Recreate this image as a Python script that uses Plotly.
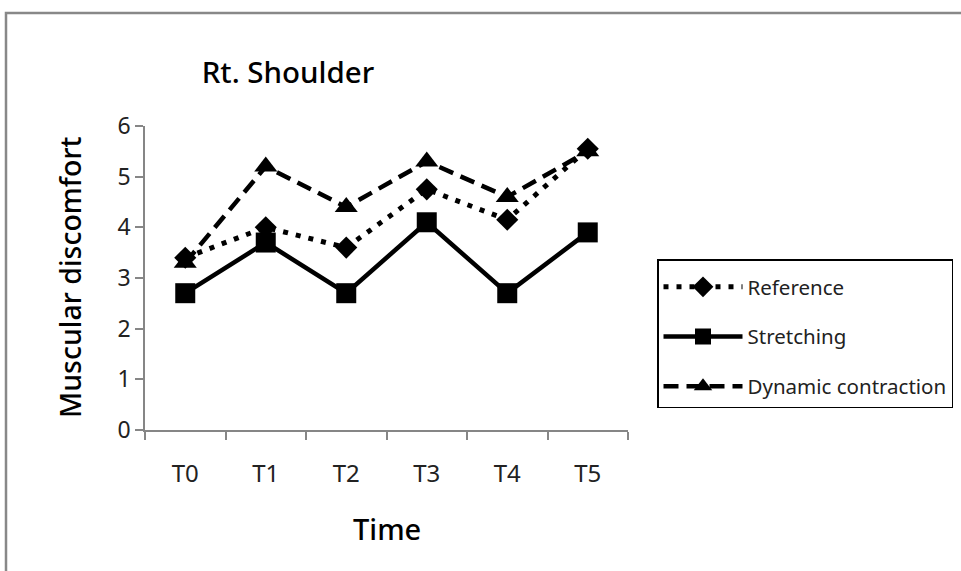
import plotly.graph_objects as go

# Muscular discomfort scores for the right shoulder over six time points
times = ["T0", "T1", "T2", "T3", "T4", "T5"]
reference = [3.4, 4.0, 3.6, 4.75, 4.15, 5.55]
stretching = [2.7, 3.7, 2.7, 4.1, 2.7, 3.9]
dynamic = [3.3, 5.2, 4.4, 5.3, 4.6, 5.5]

W, H = 961, 571
L, R, T, B = 145, 628, 126, 430          # plot-area edges in pixels
FONT = "Noto Sans"


def px_x(px):
    return (px - L) / (R - L)


def px_y(py):
    return (B - py) / (B - T)


fig = go.Figure()

fig.add_trace(go.Scatter(
    x=times, y=reference, name="Reference", mode="lines+markers",
    line=dict(color="black", width=5, dash="5px,8px"),
    marker=dict(symbol="diamond", size=17, color="black"),
    legendgroup="a",
))
fig.add_trace(go.Scatter(
    x=times, y=stretching, name="Stretching", mode="lines+markers",
    line=dict(color="black", width=4.5),
    marker=dict(symbol="square", size=20, color="black"),
    legendgroup="b",
))
fig.add_trace(go.Scatter(
    x=times, y=dynamic, name="Dynamic contraction", mode="lines+markers",
    line=dict(color="black", width=4.5, dash="15px,8px"),
    marker=dict(symbol="triangle-up", size=20, color="black"),
    legendgroup="c",
))

axis_color = "#868686"
fig.update_layout(
    width=W, height=H,
    margin=dict(l=L, r=W - R, t=T, b=H - B, autoexpand=False),
    paper_bgcolor="white", plot_bgcolor="white",
    font=dict(family=FONT, color="black"),
    showlegend=True,
    title=dict(
        text="Rt. Shoulder", x=288 / W, xanchor="center",
        y=1 - 73 / H, yanchor="middle", xref="container", yref="container",
        font=dict(size=29.5, family=FONT, weight=500),
    ),
    xaxis=dict(
        type="category", range=[-0.5, 5.5], tickson="boundaries",
        showline=True, linecolor=axis_color, linewidth=1.5,
        ticks="outside", ticklen=8, tickcolor=axis_color, tickwidth=1.5,
        showgrid=False, zeroline=False,
        tickfont=dict(size=24, color="#222"), ticklabelstandoff=21,
    ),
    yaxis=dict(
        range=[0, 6], dtick=1,
        showline=True, linecolor=axis_color, linewidth=1.5,
        ticks="outside", ticklen=8, tickcolor=axis_color, tickwidth=1.5,
        showgrid=False, zeroline=False,
        tickfont=dict(size=23, color="#222"),
    ),
    legend=dict(
        x=px_x(657), y=px_y(259), xanchor="left", yanchor="top",
        bordercolor="black", borderwidth=1.5, bgcolor="white",
        font=dict(size=20.5, color="#222"),
        title=dict(text=" ", font=dict(size=5)),
        tracegroupgap=20, itemwidth=79,
    ),
)

# axis titles
fig.add_annotation(
    text="Time", xref="paper", yref="paper", x=0.5, y=px_y(528),
    showarrow=False, font=dict(size=29, family=FONT, weight=500),
    xanchor="center", yanchor="middle",
)
fig.add_annotation(
    text="Muscular discomfort", xref="paper", yref="paper",
    x=px_x(70), y=0.5, textangle=-90, showarrow=False,
    font=dict(size=28.5, family=FONT, weight=500),
    xanchor="center", yanchor="middle",
)

# chart-area frame
fig.add_shape(
    type="rect", xref="paper", yref="paper",
    x0=px_x(6), x1=px_x(980), y0=px_y(590), y1=px_y(13),
    line=dict(color="#888888", width=2.5), layer="below",
)

fig.write_html("out.html")
